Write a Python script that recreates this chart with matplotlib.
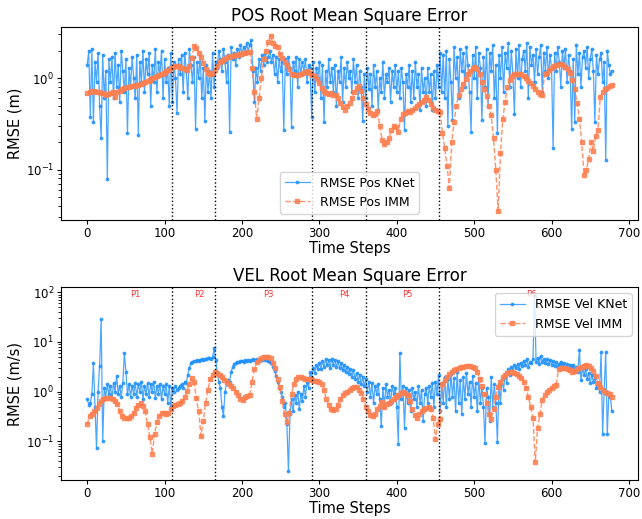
import numpy as np
import matplotlib
matplotlib.use("Agg")
import matplotlib.pyplot as plt

# time steps (KNet every 2nd step, IMM every 3rd step)
steps_knet = np.arange(0, 680, 2)
steps_imm = np.arange(0, 680, 3)

pos_knet = [
    1.4, 2.0, 0.38, 2.1, 0.33, 1.5, 0.9, 1.9, 0.5, 0.22,
    1.8, 0.6, 1.2, 0.078, 1.6, 0.9, 1.7, 0.6, 1.9, 0.8,
    1.4, 0.55, 2.0, 1.2, 0.7, 1.6, 0.25, 1.3, 0.8, 1.7,
    1.0, 0.6, 1.8, 0.24, 1.5, 0.9, 2.0, 0.7, 1.6, 1.1,
    1.9, 0.5, 1.4, 0.9, 2.1, 0.7, 1.5, 1.1, 2.0, 0.6,
    1.6, 0.9, 1.3, 0.5, 1.9, 0.55, 1.5, 1.0, 0.42, 1.6,
    1.1, 1.8, 0.7, 1.9, 1.2, 0.6, 2.1, 1.4, 0.9, 1.7,
    0.28, 1.5, 1.0, 1.8, 0.6, 1.3, 0.34, 1.4, 0.7, 1.2,
    0.6, 1.9, 0.8, 1.5, 1.3, 2.0, 1.6, 1.2, 2.1, 1.5,
    0.9, 1.8, 0.26, 2.2, 1.6, 1.9, 1.4, 2.1, 1.7, 2.3,
    1.8, 2.2, 1.9, 2.4, 2.0, 2.3, 2.6, 1.2, 0.55, 1.3,
    0.9, 1.6, 1.2, 1.8, 1.4, 1.9, 1.5, 1.7, 2.0, 1.5,
    1.8, 1.1, 1.7, 0.9, 1.6, 1.2, 1.5, 0.27, 1.6, 1.1,
    1.7, 1.3, 0.29, 1.5, 1.2, 1.7, 0.8, 1.6, 1.1, 1.5,
    1.2, 1.6, 0.9, 1.4, 1.3, 0.38, 1.5, 0.7, 1.3, 1.0,
    1.5, 0.6, 1.4, 0.33, 1.2, 0.8, 1.6, 0.9, 1.3, 0.7,
    1.4, 0.5, 1.2, 0.9, 1.7, 0.55, 1.3, 0.8, 1.5, 1.0,
    1.2, 0.7, 1.6, 0.9, 1.4, 0.6, 1.2, 0.8, 0.34, 1.1,
    0.6, 1.3, 0.75, 1.1, 0.5, 1.4, 0.8, 1.2, 0.45, 1.0,
    0.7, 1.5, 0.6, 1.1, 0.9, 1.3, 0.55, 1.2, 0.8, 1.4,
    0.7, 1.2, 0.6, 1.3, 0.9, 0.27, 1.1, 0.8, 1.4, 0.55,
    1.2, 0.6, 1.5, 0.8, 1.1, 0.45, 1.3, 0.7, 1.0, 0.5,
    1.3, 0.7, 1.1, 0.45, 1.2, 0.6, 1.4, 0.8, 1.9, 0.7,
    1.8, 0.6, 2.0, 0.3, 1.6, 0.9, 0.35, 2.2, 1.0, 1.7,
    0.6, 2.1, 1.2, 1.9, 0.8, 2.2, 1.4, 0.7, 0.26, 1.8,
    1.0, 2.2, 0.6, 1.9, 1.3, 0.35, 1.7, 0.8, 2.1, 0.5,
    1.9, 1.2, 2.3, 0.6, 1.4, 0.25, 1.8, 1.0, 2.2, 0.7,
    1.9, 1.3, 2.4, 0.8, 2.0, 1.1, 0.4, 2.1, 1.0, 2.3,
    0.8, 1.6, 2.0, 1.2, 2.4, 0.6, 2.2, 1.4, 1.8, 0.9,
    2.1, 1.1, 1.7, 2.3, 0.7, 1.9, 1.2, 2.2, 1.0, 1.8,
    1.3, 0.17, 1.9, 1.2, 2.2, 1.5, 0.8, 2.0, 1.3, 2.1,
    0.9, 1.8, 1.2, 0.28, 1.6, 0.33, 2.3, 1.1, 1.9, 0.8,
    1.7, 2.0, 1.3, 2.2, 1.0, 1.6, 2.1, 1.2, 0.33, 1.8,
    1.1, 1.6, 1.9, 0.9, 1.5, 0.127, 2.0, 1.4, 1.1, 1.2,
]

pos_imm = [
    0.68, 0.70, 0.72, 0.72, 0.71, 0.70, 0.69, 0.68, 0.66, 0.67,
    0.69, 0.70, 0.62, 0.71, 0.73, 0.75, 0.77, 0.79, 0.80, 0.81,
    0.82, 0.83, 0.84, 0.86, 0.88, 0.90, 0.93, 0.96, 0.99, 1.02,
    1.05, 1.08, 1.11, 1.14, 1.18, 1.22, 1.28, 1.33, 1.36, 1.35,
    1.32, 1.28, 1.26, 1.24, 1.35, 1.65, 2.25, 2.15, 1.90, 1.70,
    1.45, 1.25, 1.15, 1.10, 1.15, 1.22, 1.35, 1.48, 1.55, 1.62,
    1.68, 1.72, 1.74, 1.75, 1.78, 1.80, 1.84, 1.88, 1.90, 1.93,
    1.95, 1.30, 0.70, 0.36, 0.60, 1.00, 1.60, 2.00, 2.50, 2.90,
    2.40, 2.25, 2.20, 1.85, 1.65, 1.50, 1.38, 1.25, 1.12, 1.07,
    1.07, 1.08, 1.10, 1.13, 1.16, 1.19, 1.15, 1.08, 1.05, 0.98,
    0.88, 0.78, 0.72, 0.68, 0.67, 0.68, 0.66, 0.65, 0.60, 0.53,
    0.48, 0.45, 0.50, 0.53, 0.60, 0.70, 0.78, 0.82, 0.72, 0.60,
    0.52, 0.46, 0.42, 0.39, 0.40, 0.44, 0.30, 0.21, 0.19, 0.20,
    0.22, 0.27, 0.30, 0.29, 0.26, 0.36, 0.40, 0.42, 0.44, 0.43,
    0.45, 0.47, 0.49, 0.52, 0.55, 0.58, 0.62, 0.58, 0.52, 0.47,
    0.45, 0.44, 0.43, 0.25, 0.17, 0.11, 0.063, 0.20, 0.33, 0.50,
    0.65, 0.75, 0.86, 0.98, 1.10, 1.20, 1.30, 1.32, 1.25, 1.10,
    0.90, 0.75, 0.63, 0.50, 0.39, 0.22, 0.098, 0.035, 0.15, 0.36,
    0.55, 0.80, 0.95, 1.05, 1.10, 1.12, 1.12, 1.10, 1.05, 1.00,
    0.93, 0.88, 0.82, 0.76, 0.71, 0.67, 0.65, 1.10, 1.15, 1.22,
    1.28, 1.35, 1.40, 1.43, 1.42, 1.38, 1.32, 1.25, 1.15, 0.95,
    0.75, 0.53, 0.36, 0.20, 0.088, 0.10, 0.13, 0.20, 0.16, 0.23,
    0.27, 0.62, 0.70, 0.75, 0.78, 0.81, 0.83,
]

vel_knet = [
    0.7, 0.55, 0.6, 0.9, 3.8, 0.5, 0.072, 1.0, 3.3, 29.0,
    0.1, 1.2, 0.8, 1.4, 0.9, 1.3, 0.7, 1.5, 1.0, 2.1,
    0.9, 1.3, 0.8, 1.5, 6.0, 2.5, 0.9, 1.4, 0.8, 1.3,
    0.9, 1.5, 0.8, 1.4, 1.0, 1.6, 0.7, 1.3, 0.9, 1.5,
    0.8, 1.4, 1.0, 1.6, 0.75, 1.3, 0.9, 1.4, 0.7, 1.3,
    0.9, 1.4, 0.6, 1.3, 0.5, 1.2, 1.0, 1.3, 1.1, 1.2,
    1.3, 1.4, 1.2, 1.6, 1.5, 2.2, 3.0, 3.8, 4.0, 4.1,
    4.2, 4.3, 4.1, 4.4, 4.5, 4.3, 4.6, 4.5, 4.7, 4.8,
    4.6, 4.9, 7.5, 4.4, 2.5, 1.6, 1.2, 0.5, 0.32, 1.0,
    1.5, 1.7, 1.6, 2.5, 3.2, 3.6, 3.8, 4.0, 3.9, 4.1,
    4.2, 4.0, 4.3, 4.1, 4.4, 4.2, 4.3, 4.5, 4.3, 4.4,
    4.6, 4.3, 4.5, 4.4, 4.6, 4.3, 4.4, 4.2, 4.0, 3.8,
    3.2, 2.6, 2.1, 1.6, 1.2, 1.0, 0.8, 0.5, 0.6, 0.22,
    0.025, 0.35, 0.7, 0.4, 0.86, 0.6, 1.0, 0.45, 0.9, 0.64,
    1.3, 0.8, 1.6, 1.2, 2.5, 1.9, 3.0, 2.4, 3.4, 2.8,
    3.8, 2.9, 4.2, 3.1, 4.5, 3.4, 4.3, 3.0, 4.6, 3.5,
    4.4, 3.2, 4.1, 3.0, 3.8, 2.7, 3.5, 2.5, 3.2, 2.3,
    2.9, 2.0, 2.7, 1.8, 2.4, 1.6, 2.2, 1.4, 2.0, 1.3,
    1.8, 1.0, 1.6, 0.8, 1.5, 0.6, 1.3, 0.9, 1.4, 0.7,
    0.2, 1.2, 0.5, 1.4, 0.8, 1.1, 0.6, 1.3, 0.9, 1.2,
    0.5, 0.09, 6.0, 0.7, 1.3, 0.19, 1.2, 0.6, 1.1, 0.4,
    1.2, 0.7, 1.0, 0.5, 1.3, 0.6, 1.1, 0.26, 0.9, 1.2,
    0.6, 1.3, 0.8, 1.5, 0.5, 1.6, 0.9, 2.2, 0.4, 1.5,
    0.6, 2.0, 0.5, 1.8, 0.7, 2.3, 0.8, 1.9, 0.4, 2.5,
    0.6, 1.7, 0.35, 2.0, 0.7, 2.4, 0.9, 1.6, 0.5, 2.1,
    0.8, 1.5, 0.4, 1.9, 0.6, 1.2, 0.5, 0.093, 1.2, 0.8,
    0.26, 2.0, 0.5, 1.4, 0.6, 0.097, 1.4, 0.6, 1.8, 1.1,
    2.3, 1.5, 2.8, 2.2, 3.2, 2.6, 3.4, 3.0, 3.6, 2.8,
    3.8, 3.3, 4.2, 3.5, 4.6, 3.2, 4.0, 3.7, 4.5, 85.0,
    4.0, 4.8, 3.6, 5.2, 4.0, 4.6, 3.8, 4.5, 3.6, 4.3,
    3.5, 4.1, 3.3, 3.9, 3.1, 3.6, 4.0, 3.4, 3.8, 3.0,
    3.6, 2.9, 3.4, 3.1, 3.5, 2.6, 3.2, 2.5, 7.0, 1.7,
    3.0, 2.2, 2.8, 1.8, 2.4, 1.5, 2.2, 1.6, 1.9, 1.2,
    1.4, 1.0, 6.3, 0.14, 1.1, 6.3, 0.14, 0.9, 0.8, 0.4,
]

vel_imm = [
    0.22, 0.32, 0.35, 0.40, 0.48, 0.56, 0.64, 0.70, 0.73, 0.75,
    0.76, 0.72, 0.66, 0.56, 0.40, 0.32, 0.30, 0.29, 0.30, 0.32,
    0.38, 0.46, 0.54, 0.59, 0.52, 0.40, 0.22, 0.12, 0.057, 0.14,
    0.24, 0.32, 0.37, 0.38, 0.36, 0.38, 0.45, 0.51, 0.54, 0.56,
    0.59, 0.66, 0.78, 1.05, 1.45, 1.85, 1.57, 0.74, 0.40, 0.13,
    0.26, 0.60, 1.10, 1.80, 2.20, 2.50, 2.40, 2.20, 1.95, 1.75,
    1.57, 1.42, 1.30, 1.16, 1.00, 0.86, 0.72, 0.69, 0.78, 0.82,
    0.86, 1.60, 2.80, 3.90, 4.40, 4.70, 4.90, 4.90, 4.90, 4.70,
    3.80, 3.00, 1.80, 1.25, 0.64, 0.35, 0.24, 0.38, 0.90, 1.45,
    1.83, 1.95, 1.97, 1.90, 1.83, 1.80, 1.77, 1.70, 1.62, 1.66,
    1.57, 1.40, 1.10, 0.70, 0.55, 0.44, 0.42, 0.44, 0.55, 0.70,
    0.86, 0.95, 1.00, 1.10, 1.20, 1.25, 1.25, 1.10, 0.95, 0.70,
    0.50, 0.40, 0.34, 0.32, 0.36, 0.44, 0.52, 0.62, 0.50, 0.56,
    0.60, 0.64, 0.72, 0.80, 0.86, 0.94, 1.00, 0.95, 0.85, 0.65,
    0.45, 0.34, 0.30, 0.36, 0.40, 0.44, 0.47, 0.50, 0.45, 0.30,
    0.11, 0.22, 0.28, 1.40, 1.70, 2.00, 2.30, 2.50, 2.70, 2.90,
    3.00, 3.10, 3.20, 3.30, 3.30, 3.25, 3.15, 3.00, 2.50, 1.80,
    1.30, 0.90, 0.60, 0.35, 0.28, 0.45, 0.80, 1.25, 1.60, 1.95,
    2.20, 2.40, 2.50, 2.50, 2.40, 2.30, 2.10, 1.85, 1.57, 1.20,
    0.80, 0.50, 0.30, 0.038, 0.19, 0.35, 0.69, 0.85, 1.00, 1.08,
    1.16, 1.30, 1.35, 2.90, 3.00, 3.00, 2.95, 2.90, 2.70, 2.50,
    2.60, 2.80, 3.00, 3.20, 3.30, 3.40, 3.30, 3.00, 2.60, 2.10,
    1.50, 1.25, 1.10, 1.00, 0.95, 0.88, 0.80,
]

# phase boundaries and labels
bounds = [110, 165, 290, 360, 455]
phase_edges = [0, 110, 165, 290, 360, 455, 680]
phase_names = ['P1', 'P2', 'P3', 'P4', 'P5', 'P6']

fig, (ax1, ax2) = plt.subplots(2, 1, figsize=(6.42, 5.19), dpi=100)
plt.subplots_adjust(left=0.095, right=0.994, top=0.948, bottom=0.075, hspace=0.347)

ax1.plot(steps_knet, pos_knet, '.-', color='dodgerblue', markersize=3.5, linewidth=0.9,
         alpha=0.8, label='RMSE Pos KNet')
ax1.plot(steps_imm, pos_imm, 's--', color='coral', markersize=2.4, linewidth=1,
         alpha=0.85, label='RMSE Pos IMM')
ax1.set_yscale('log')
for b in bounds:
    ax1.axvline(b, color='k', linestyle=':', linewidth=1)
ax1.set_title('POS Root Mean Square Error', fontsize=12, pad=4)
ax1.set_xlabel('Time Steps', fontsize=10.5, labelpad=1)
ax1.set_ylabel('RMSE (m)', fontsize=10.5, labelpad=2)
ax1.legend(loc='lower center', fontsize=9)

ax2.plot(steps_knet, vel_knet, '.-', color='dodgerblue', markersize=3.5, linewidth=0.9,
         alpha=0.8, label='RMSE Vel KNet')
ax2.plot(steps_imm, vel_imm, 's--', color='coral', markersize=2.4, linewidth=1,
         alpha=0.85, label='RMSE Vel IMM')
ax2.set_yscale('log')
for b in bounds:
    ax2.axvline(b, color='k', linestyle=':', linewidth=1)
for i, name in enumerate(phase_names):
    mid = (phase_edges[i] + phase_edges[i + 1]) / 2
    ax2.text(mid, 80, name, color='red', fontsize=6, alpha=0.8)
ax2.set_title('VEL Root Mean Square Error', fontsize=12, pad=4)
ax2.set_xlabel('Time Steps', fontsize=10.5, labelpad=1)
ax2.set_ylabel('RMSE (m/s)', fontsize=10.5, labelpad=2)
ax2.legend(loc='upper right', fontsize=9)

for ax in (ax1, ax2):
    ax.tick_params(labelsize=8.5, length=3, pad=2)

plt.savefig('out.png', dpi=100)
